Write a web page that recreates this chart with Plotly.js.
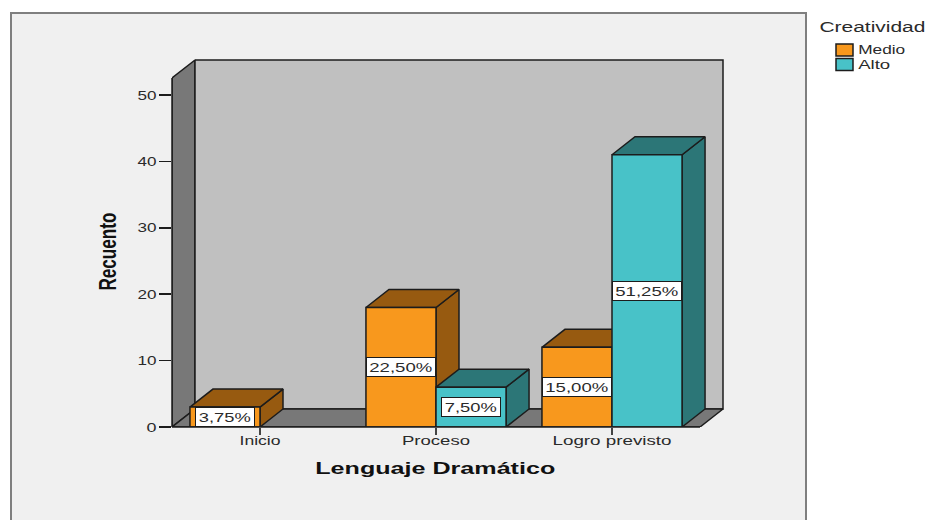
<!DOCTYPE html>
<html>
<head>
<meta charset="utf-8">
<script src="https://cdn.plot.ly/plotly-3.0.1.min.js"></script>
<style>html,body{margin:0;padding:0;background:#fff;overflow:hidden}#c{width:926px;height:520px}</style>
</head>
<body>
<div id="c"></div>
<script>
// Data
var categories = ["Inicio", "Proceso", "Logro previsto"];
var medio = [3, 18, 12];
var alto = [null, 6, 41];
var medioLabels = ["3,75%", "22,50%", "15,00%"];
var altoLabels = [null, "7,50%", "51,25%"];
var yTicks = [0, 10, 20, 30, 40, 50];
var seriesNames = ["Medio", "Alto"];
var legendTitle = "Creatividad";
var xTitle = "Lenguaje Dramático";
var yTitle = "Recuento";

// Style and geometry
var W = 926, H = 520;
var L = 172, R = 726, T = 56, B = 427;
var pxPerCat = 176, pxPerUnit = 6.64;
var xStart = -0.5, xEnd = 2.5, yWall = 52.56;
var xRange = [xStart, xStart + (R - L) / pxPerCat], yRange = [0, (B - T) / pxPerUnit];
var barW = 0.398, dx = 23 / pxPerCat, dy = 18 / pxPerUnit;
var cols = [
  {front: "#f8981d", dark: "#975a10"},
  {front: "#48c2c8", dark: "#2c7677"}
];
var edge = "#1c1c1c", ink = "#2a2a2a";
var textFont = "Liberation Sans";
// The reference lettering is horizontally stretched: rendered widths of each text, in pixels
var textWidths = {
  "Inicio": 41, "Proceso": 68, "Logro previsto": 119,
  "0": 10, "10": 19, "20": 19, "30": 19, "40": 19, "50": 19,
  "3,75%": 52, "7,50%": 52, "22,50%": 63, "15,00%": 63, "51,25%": 63,
  "Creatividad": 106, "Medio": 47, "Alto": 32,
  "Lenguaje Dramático": 240, "Recuento": 78
};
function px(x) { return (x - L) / (R - L); }
function py(y) { return (B - y) / (B - T); }

function poly(xs, ys, fill) {
  return {
    type: "scatter", mode: "lines", x: xs.concat([xs[0]]), y: ys.concat([ys[0]]),
    fill: "toself", fillcolor: fill, line: {color: edge, width: 1.5},
    hoverinfo: "skip", showlegend: false
  };
}

var traces = [];
traces.push(poly([xStart, xStart, xStart + dx, xStart + dx], [0, yWall, yWall + dy, dy], "#787878"));
traces.push(poly([xStart + dx, xEnd + dx, xEnd + dx, xStart + dx], [yWall + dy, yWall + dy, dy, dy], "#c0c0c0"));
traces.push(poly([xStart, xStart + dx, xEnd + dx, xEnd], [0, dy, dy, 0], "#787878"));

var annotations = [];
function addBar(xa, v, c, label) {
  var xb = xa + barW;
  traces.push(poly([xb, xb + dx, xb + dx, xb], [0, dy, v + dy, v], c.dark));
  traces.push(poly([xa, xa + dx, xb + dx, xb], [v, v + dy, v + dy, v], c.dark));
  traces.push(poly([xa, xb, xb, xa], [0, 0, v, v], c.front));
  annotations.push({
    x: (xa + xb) / 2, y: v / 2, xref: "x", yref: "y", text: label, showarrow: false,
    font: {family: textFont, size: 13, color: ink},
    bgcolor: "#ffffff", bordercolor: edge, borderwidth: 1, borderpad: 0,
    width: label.length > 5 ? 68 : 58, height: 18
  });
}
categories.forEach(function (cat, i) {
  if (medio[i] !== null) addBar(i - barW, medio[i], cols[0], medioLabels[i]);
  if (alto[i] !== null) addBar(i, alto[i], cols[1], altoLabels[i]);
});

var shapes = [
  {
    type: "rect", xref: "paper", yref: "paper", layer: "below",
    x0: px(11), x1: px(806), y0: py(560), y1: py(13),
    fillcolor: "#f0f0f0", line: {color: "#7f7f7f", width: 2}
  },
  // axis lines along the front plane of the box
  {type: "line", xref: "x", yref: "paper", layer: "above", x0: xStart, x1: xEnd, y0: 0, y1: 0, line: {color: edge, width: 1.5}},
  {type: "line", xref: "paper", yref: "y", layer: "above", x0: 0, x1: 0, y0: 0, y1: yWall, line: {color: edge, width: 1.5}}
];
annotations.push({
  xref: "paper", yref: "paper", x: px(872), y: py(27), xanchor: "center", yanchor: "middle",
  text: legendTitle, showarrow: false, font: {family: textFont, size: 14, color: ink}
});
var legendTextCentres = [881.5, 874];
seriesNames.forEach(function (name, k) {
  var cy = 50 + k * 14.5;
  shapes.push({
    type: "rect", xref: "paper", yref: "paper", layer: "above",
    x0: px(836), x1: px(853), y0: py(cy + 6), y1: py(cy - 6),
    fillcolor: cols[k].front, line: {color: edge, width: 1.5}
  });
  annotations.push({
    xref: "paper", yref: "paper", x: px(legendTextCentres[k]), y: py(cy), xanchor: "center", yanchor: "middle",
    text: name, showarrow: false, font: {family: textFont, size: 13, color: ink}
  });
});
annotations.push({
  xref: "paper", yref: "paper", x: px(435), y: py(468), xanchor: "center", yanchor: "middle",
  text: xTitle, showarrow: false, font: {family: textFont, size: 17, color: "#111", weight: "bold"}
});
annotations.push({
  xref: "paper", yref: "paper", x: px(108), y: py(252), xanchor: "center", yanchor: "middle", textangle: -90,
  text: yTitle, showarrow: false, font: {family: textFont, size: 23, color: "#111", weight: "bold"}
});

var layout = {
  width: W, height: H, paper_bgcolor: "#ffffff", plot_bgcolor: "rgba(0,0,0,0)",
  showlegend: false, hovermode: false,
  margin: {l: L, r: W - R, t: T, b: H - B, pad: 0},
  xaxis: {
    type: "linear", range: xRange, tickmode: "array", tickvals: [0, 1, 2], ticktext: categories,
    ticks: "outside", ticklen: 7, tickwidth: 1.5, tickcolor: "#444", showgrid: false, zeroline: false,
    showline: false, ticklabelstandoff: -6, tickfont: {family: textFont, size: 13, color: ink}
  },
  yaxis: {
    range: yRange, tickmode: "array", tickvals: yTicks,
    ticks: "outside", ticklen: 12, tickwidth: 1.5, tickcolor: edge, showgrid: false, zeroline: false,
    showline: false, tickfont: {family: textFont, size: 13, color: ink}
  },
  shapes: shapes, annotations: annotations
};
Plotly.newPlot("c", traces, layout, {displayModeBar: false, staticPlot: true}).then(function (gd) {
  gd.querySelectorAll("svg text").forEach(function (el) {
    var w = textWidths[el.textContent];
    if (w) {
      el.setAttribute("textLength", w);
      el.setAttribute("lengthAdjust", "spacingAndGlyphs");
    }
  });
});
</script>
</body>
</html>
